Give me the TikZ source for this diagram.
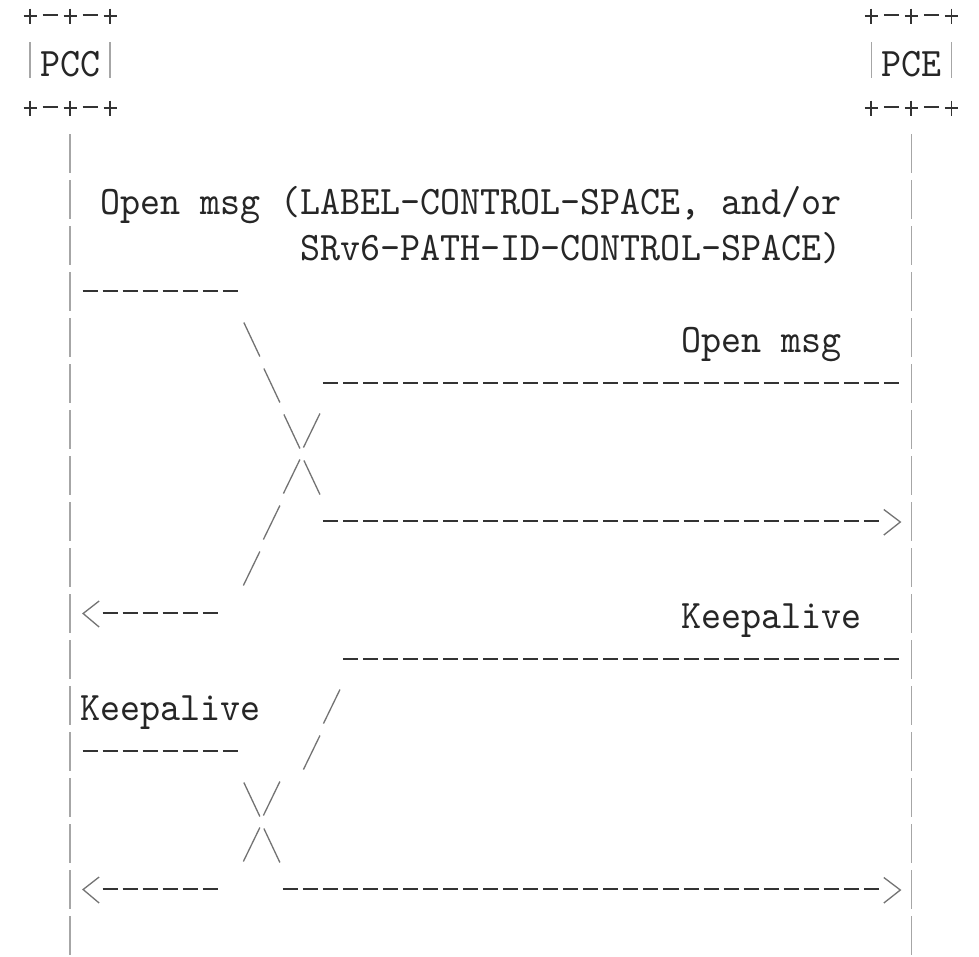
\documentclass[tikz,border=0pt]{standalone}
\usepackage{fontspec}
\newfontfamily\asciifont[FakeStretch=0.942]{lmmono10-regular.otf}
\def\pitch{20.03}
\tikzset{
  lbl/.style={inner sep=0pt, outer sep=0pt, anchor=base west, text=black!85,
              font=\asciifont\fontsize{40.5}{40.5}\selectfont},
  dashglyph/.style={draw=black!80, line width=1.9pt, dash pattern=on 15pt off 5.03pt},
  slashglyph/.style={draw=black!55, line width=1.3pt},
  tipglyph/.style={draw=black!55, line width=1.3pt, line join=miter},
  plusglyph/.style={draw=black!80, line width=1.8pt},
  barglyph/.style={draw=black!35, line width=1.4pt},
  lifeline/.style={draw=black!35, line width=1.4pt, dash pattern=on 39pt off 7pt}
}
% row #1, from column #2 to column #3
\newcommand\asciidash[3]{%
  \coordinate (d-#1-#2-s) at ({\pitch*#2+2.5},{15+46*#1});
  \coordinate (d-#1-#2-e) at ({\pitch*#3+17.5},{15+46*#1});
  \draw[dashglyph] (d-#1-#2-s) -- (d-#1-#2-e);}
% backslash at row #1, column #2
\newcommand\asciibs[2]{%
  \coordinate (b-#1-#2-s) at ({\pitch*#2+3.5},{15+46*#1-14.5});
  \coordinate (b-#1-#2-e) at ({\pitch*#2+19.5},{15+46*#1+19.5});
  \draw[slashglyph] (b-#1-#2-s) -- (b-#1-#2-e);}
% slash at row #1, column #2
\newcommand\asciisl[2]{%
  \coordinate (s-#1-#2-s) at ({\pitch*#2+3},{15+46*#1+18.5});
  \coordinate (s-#1-#2-e) at ({\pitch*#2+19.5},{15+46*#1-15.5});
  \draw[slashglyph] (s-#1-#2-s) -- (s-#1-#2-e);}
% < at row #1, column #2
\newcommand\asciilt[2]{%
  \coordinate (l-#1-#2-a) at ({\pitch*#2+19},{15+46*#1-12});
  \coordinate (l-#1-#2-t) at ({\pitch*#2+3},{15+46*#1+0.5});
  \coordinate (l-#1-#2-b) at ({\pitch*#2+19},{15+46*#1+14});
  \draw[tipglyph] (l-#1-#2-a) -- (l-#1-#2-t) -- (l-#1-#2-b);}
% > at row #1, column #2
\newcommand\asciigt[2]{%
  \coordinate (g-#1-#2-a) at ({\pitch*#2+2.5},{15+46*#1-11.5});
  \coordinate (g-#1-#2-t) at ({\pitch*#2+19},{15+46*#1+1});
  \coordinate (g-#1-#2-b) at ({\pitch*#2+2.5},{15+46*#1+14});
  \draw[tipglyph] (g-#1-#2-a) -- (g-#1-#2-t) -- (g-#1-#2-b);}
% + at row #1, column #2
\newcommand\asciiplus[2]{%
  \coordinate (p-#1-#2-l) at ({\pitch*#2+3.5},{15+46*#1+1});
  \coordinate (p-#1-#2-r) at ({\pitch*#2+16.5},{15+46*#1+1});
  \coordinate (p-#1-#2-u) at ({\pitch*#2+10},{15+46*#1-6.5});
  \coordinate (p-#1-#2-d) at ({\pitch*#2+10},{15+46*#1+8.5});
  \draw[plusglyph] (p-#1-#2-l) -- (p-#1-#2-r) (p-#1-#2-u) -- (p-#1-#2-d);}
% | at row #1, column #2
\newcommand\asciibar[2]{%
  \coordinate (v-#1-#2-u) at ({\pitch*#2+10},{15+46*#1-19});
  \coordinate (v-#1-#2-d) at ({\pitch*#2+10},{15+46*#1+17});
  \draw[barglyph] (v-#1-#2-u) -- (v-#1-#2-d);}
% a box +-+-+ / |XXX| / +-+-+ starting at column #1
\newcommand\asciibox[3]{%
  \foreach \r in {0,2}{%
    \asciiplus{\r}{#1}
    \asciidash{\r}{\the\numexpr#1+1\relax}{\the\numexpr#1+1\relax}
    \asciiplus{\r}{\the\numexpr#1+2\relax}
    \asciidash{\r}{\the\numexpr#1+3\relax}{\the\numexpr#1+3\relax}
    \asciiplus{\r}{\the\numexpr#1+4\relax}}
  \asciibar{1}{#1}
  \asciibar{1}{\the\numexpr#1+4\relax}
  \node[lbl] (#3) at ({\pitch*(#1+1)},{15+46+15.5}) {#2};}
\begin{document}
\begin{tikzpicture}[x=1pt,y=-1pt]
\fill[white] (0,0) rectangle (979,956);
\useasboundingbox (0,0) rectangle (979,956);

% entities
\asciibox{1}{PCC}{pcc}
\asciibox{43}{PCE}{pce}

% lifelines
\coordinate (pcc top) at ({\pitch*3+10},{15+46*3-19});
\coordinate (pcc bottom) at ({\pitch*3+10},962);
\coordinate (pce top) at ({\pitch*45+10},{15+46*3-19});
\coordinate (pce bottom) at ({\pitch*45+10},962);
\draw[lifeline] (pcc top) -- (pcc bottom);
\draw[lifeline] (pce top) -- (pce bottom);

% labels
\node[lbl] (open1) at ({\pitch*5},{15+46*4+15.5}) {Open msg (LABEL-CONTROL-SPACE, and/or};
\node[lbl] (open2) at ({\pitch*15},{15+46*5+15.5}) {SRv6-PATH-ID-CONTROL-SPACE)};
\node[lbl] (open3) at ({\pitch*34},{15+46*7+15.5}) {Open msg};
\node[lbl] (ka1) at ({\pitch*34},{15+46*13+15.5}) {Keepalive};
\node[lbl] (ka2) at ({\pitch*4},{15+46*15+15.5}) {Keepalive};

% Open msg PCC -> PCE
\asciidash{6}{4}{11}
\asciibs{7}{12}
\asciibs{8}{13}
\asciibs{9}{14}
\asciibs{10}{15}
\asciidash{11}{16}{43}
\asciigt{11}{44}

% Open msg PCE -> PCC
\asciidash{8}{16}{44}
\asciisl{9}{15}
\asciisl{10}{14}
\asciisl{11}{13}
\asciisl{12}{12}
\asciidash{13}{5}{10}
\asciilt{13}{4}

% Keepalive PCE -> PCC
\asciidash{14}{17}{44}
\asciisl{15}{16}
\asciisl{16}{15}
\asciisl{17}{13}
\asciisl{18}{12}
\asciidash{19}{5}{10}
\asciilt{19}{4}

% Keepalive PCC -> PCE
\asciidash{16}{4}{11}
\asciibs{17}{12}
\asciibs{18}{13}
\asciidash{19}{14}{43}
\asciigt{19}{44}
\end{tikzpicture}
\end{document}
